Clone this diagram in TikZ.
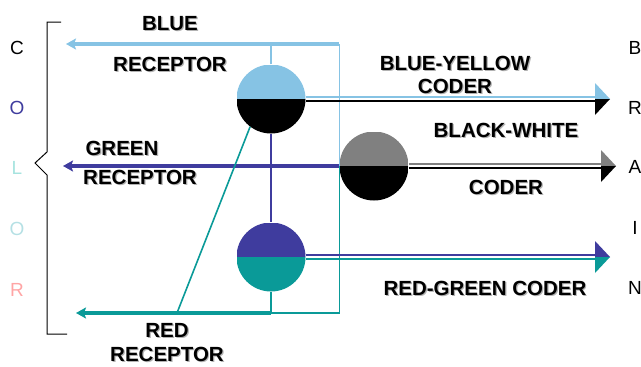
\documentclass[tikz,border=0pt]{standalone}
\usepackage{fontspec}
\setmainfont{Liberation Sans}
\usepackage{tikz}
\usetikzlibrary{arrows.meta}

\definecolor{lblue}{HTML}{86C3E4}
\definecolor{dblue}{HTML}{3F3C9E}
\definecolor{tealc}{HTML}{0A9A98}
\definecolor{midgray}{HTML}{808080}
\definecolor{lcyan}{HTML}{A6E3DF}
\definecolor{paleblue}{HTML}{B5E0E4}
\definecolor{lpink}{HTML}{FFA5A5}

% label text with a soft grey drop shadow
\newcommand{\shad}[1]{\rlap{\kern1.2pt\raisebox{-1.2pt}{\color{black!30}#1}}#1}

\begin{document}
\begin{tikzpicture}[x=1pt, y=-1pt,
  lbl/.style={font=\fontsize{20.5}{23.5}\selectfont\bfseries, inner sep=0pt, align=center},
  side/.style={font=\fontsize{19}{19}\selectfont, inner sep=0pt},
  recep/.style={line width=4pt, -{Stealth[length=10pt,width=11pt,inset=2pt]}},
  wire/.style={line width=1.6pt},
  halfdisc/.style 2 args={circle, minimum size=69pt, inner sep=0pt, path picture={
      \fill[#1] (path picture bounding box.north west) rectangle (path picture bounding box.east);
      \fill[#2] (path picture bounding box.south west) rectangle (path picture bounding box.east);}}]
  \useasboundingbox (0,0) rectangle (641,367);

  % COLOR / BRAIN letters
  \foreach \ch/\yy/\col [count=\i] in {C/48/black, O/108/dblue, L/168/lcyan, O/229/paleblue, R/290/lpink}
    \node[side, text=\col] (left\i) at (17,\yy) {\ch};
  \foreach \ch/\yy [count=\i] in {B/48, R/108, A/167, I/228, N/288}
    \node[side] (right\i) at (635,\yy) {\ch};
  \draw[line width=1pt] (61,22) -- (47,22) -- (47,152) -- (35,163) -- (47,175) -- (47,334) -- (67,334);

  % coders
  \node[halfdisc={lblue}{black}] (by) at (271,99) {};
  \node[halfdisc={midgray}{black}] (bw) at (374,166) {};
  \node[halfdisc={dblue}{tealc}] (rg) at (271,257) {};

  % receptor wiring
  \coordinate (bluejoin) at (bw.west |- 0,44);
  \coordinate (bluetip) at (66,44);
  \coordinate (greentip) at (bw.west -| 63,0);
  \coordinate (redjoin) at (rg.south |- 0,313);
  \coordinate (redbend) at (bw.west |- redjoin);
  \coordinate (redtip) at (76,313);
  \coordinate (diagfoot) at (177,313);
  \draw[recep, lblue] (bluejoin) -- (bluetip);
  \draw[wire, lblue] (by.north) -- (by.north |- bluejoin);
  \draw[wire, lblue] (bluejoin) -- (bw.west);
  \draw[recep, dblue] (bw.west) -- (greentip);
  \draw[wire, dblue] (by.south) -- (rg.north);
  \draw[wire, tealc] (bw.west) -- (redbend) -- (redjoin) -- (rg.south);
  \draw[recep, tealc] (redjoin) -- (redtip);
  \draw[wire, tealc] (by.233) -- (diagfoot);

  % coder outputs, split arrow heads
  \foreach \c/\up/\dn/\tipx in {by/lblue/black/610, bw/midgray/black/616, rg/dblue/tealc/610}{
    \coordinate (\c tip) at (\c.east -| \tipx,0);
    \draw[wire, \up] ([yshift=1.8pt]\c.east) -- ([xshift=-14pt,yshift=1.8pt]\c tip);
    \draw[wire, \dn] ([yshift=-1.8pt]\c.east) -- ([xshift=-14pt,yshift=-1.8pt]\c tip);
    \fill[\up] (\c tip) -- ++(-15,-16) -- ++(0,16) -- cycle;
    \fill[\dn] (\c tip) -- ++(-15,16) -- ++(0,-16) -- cycle;
  }

  % labels
  \node[lbl] (bluetop) at (170,24) {\shad{BLUE}};
  \node[lbl] (bluerecep) at (170,65) {\shad{RECEPTOR}};
  \node[lbl] (greentop) at (122,149) {\shad{GREEN}};
  \node[lbl] (greenrecep) at (140,178) {\shad{RECEPTOR}};
  \node[lbl] (redlbl) at (167,343) {\shad{RED}\\\shad{RECEPTOR}};
  \node[lbl] (bylbl) at (455,75.5) {\shad{BLUE-YELLOW}\\\shad{CODER}};
  \node[lbl] (bwtop) at (506,131) {\shad{BLACK-WHITE}};
  \node[lbl] (bwcoder) at (506,188) {\shad{CODER}};
  \node[lbl] (rglbl) at (485,289) {\shad{RED-GREEN CODER}};
\end{tikzpicture}
\end{document}
